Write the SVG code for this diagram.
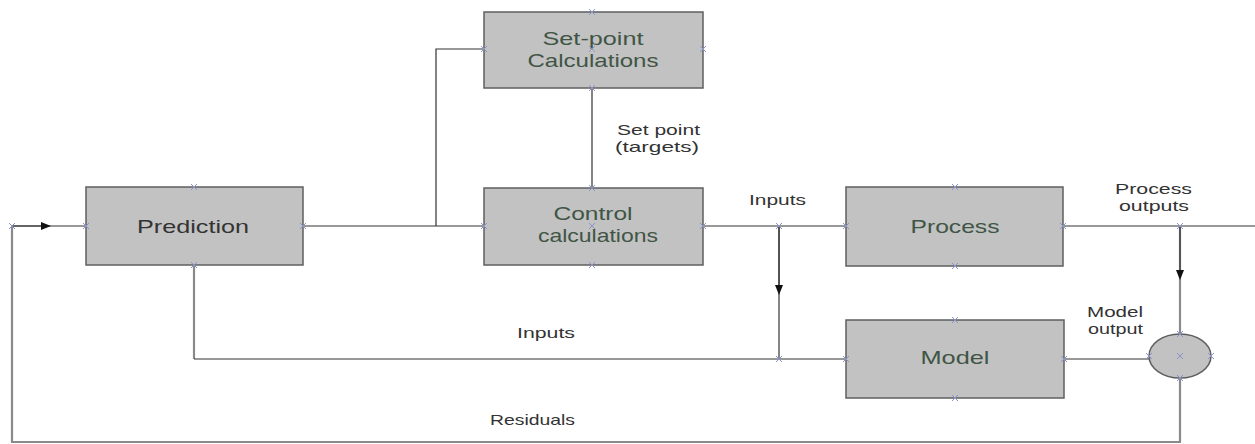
<svg xmlns="http://www.w3.org/2000/svg" width="1255" height="444" viewBox="0 0 1255 444">
<style>
.box{fill:#c2c2c2;stroke:#5f5f5f;stroke-width:1.5}
.bt{font-family:"Liberation Sans",Arial,sans-serif;font-size:19px;fill:#405545;text-anchor:middle}
.lbl{font-family:"Liberation Sans",Arial,sans-serif;font-size:15px;fill:#333}
.ln{fill:none;stroke:#333;stroke-width:1.2}
.gl{fill:none;stroke:#8a8a8a;stroke-width:2.2}
.cp{fill:none;stroke:#8a94c8;stroke-width:1}
</style>
<defs>
<marker id="ah" viewBox="0 0 10 10" refX="5" refY="5" markerWidth="10" markerHeight="10" markerUnits="userSpaceOnUse" orient="auto">
<path d="M0,1 L10,5 L0,9 Z" fill="#111"/>
</marker>
<path id="x" d="M-3,-3 L3,3 M-3,3 L3,-3"/>
</defs>
<rect width="1255" height="444" fill="#fff"/>
<g id="connectors">
<path class="gl" d="M12,226 V442 H1180 V378"/>
<path class="ln" d="M12,226 H86"/>
<path class="ln" d="M12,226 H46" marker-end="url(#ah)"/>
<path class="ln" d="M303,226 H484"/>
<path class="ln" d="M436,226 V49 H484"/>
<path class="ln" d="M592,88 V188"/>
<path class="ln" d="M703,226 H846"/>
<path class="ln" d="M779,226 V359"/>
<path class="ln" d="M779,226 V290" marker-end="url(#ah)"/>
<path class="gl" d="M194,265 V359"/>
<path class="ln" d="M194,359 H846"/>
<path class="ln" d="M1063,226 H1255"/>
<path class="gl" d="M1180,226 V334"/>
<path class="ln" d="M1180,226 V275" marker-end="url(#ah)"/>
<path class="ln" d="M1064,359 H1149"/>
<g class="cp"><use href="#x" x="12" y="226"/><use href="#x" x="779" y="226"/><use href="#x" x="779" y="359"/><use href="#x" x="1180" y="226"/></g>
</g>
<g id="setpoint">
<rect class="box" x="484" y="12" width="219" height="76"/>
<text class="bt" x="593" y="45" textLength="101" lengthAdjust="spacingAndGlyphs">Set-point</text>
<text class="bt" x="593" y="67" textLength="131" lengthAdjust="spacingAndGlyphs">Calculations</text>
<g class="cp"><use href="#x" x="592" y="12"/><use href="#x" x="484" y="49"/><use href="#x" x="703" y="49"/><use href="#x" x="592" y="88"/><use href="#x" x="592" y="49"/></g>
</g>
<g id="prediction">
<rect class="box" x="86" y="187" width="217" height="78"/>
<text class="bt" x="193" y="233" style="fill:#333" textLength="112" lengthAdjust="spacingAndGlyphs">Prediction</text>
<g class="cp"><use href="#x" x="194" y="187"/><use href="#x" x="86" y="226"/><use href="#x" x="303" y="226"/><use href="#x" x="194" y="265"/></g>
</g>
<g id="control">
<rect class="box" x="484" y="188" width="219" height="77"/>
<text class="bt" x="593" y="220" textLength="79" lengthAdjust="spacingAndGlyphs">Control</text>
<text class="bt" x="598" y="242" textLength="120" lengthAdjust="spacingAndGlyphs">calculations</text>
<g class="cp"><use href="#x" x="592" y="188"/><use href="#x" x="484" y="226"/><use href="#x" x="703" y="226"/><use href="#x" x="592" y="265"/><use href="#x" x="592" y="226"/></g>
</g>
<g id="process">
<rect class="box" x="846" y="187" width="217" height="79"/>
<text class="bt" x="955" y="233" textLength="89" lengthAdjust="spacingAndGlyphs">Process</text>
<g class="cp"><use href="#x" x="955" y="187"/><use href="#x" x="846" y="226"/><use href="#x" x="1063" y="226"/><use href="#x" x="955" y="266"/></g>
</g>
<g id="model">
<rect class="box" x="846" y="320" width="218" height="78"/>
<text class="bt" x="955" y="364" textLength="69" lengthAdjust="spacingAndGlyphs">Model</text>
<g class="cp"><use href="#x" x="955" y="320"/><use href="#x" x="846" y="359"/><use href="#x" x="1064" y="359"/><use href="#x" x="955" y="398"/></g>
</g>
<g id="sum">
<ellipse cx="1180" cy="356" rx="31" ry="22" fill="#c2c2c2" stroke="#5f5f5f" stroke-width="1.5"/>
<g class="cp"><use href="#x" x="1180" y="356"/><use href="#x" x="1149" y="356"/><use href="#x" x="1211" y="356"/><use href="#x" x="1180" y="334"/><use href="#x" x="1180" y="378"/></g>
</g>
<g id="labels">
<text class="lbl" x="617" y="135" textLength="83" lengthAdjust="spacingAndGlyphs">Set point</text>
<text class="lbl" x="615" y="152" textLength="84" lengthAdjust="spacingAndGlyphs">(targets)</text>
<text class="lbl" x="749" y="205" textLength="57" lengthAdjust="spacingAndGlyphs">Inputs</text>
<text class="lbl" x="1115" y="194" textLength="77" lengthAdjust="spacingAndGlyphs">Process</text>
<text class="lbl" x="1119" y="211" textLength="70" lengthAdjust="spacingAndGlyphs">outputs</text>
<text class="lbl" x="1087" y="317" textLength="56" lengthAdjust="spacingAndGlyphs">Model</text>
<text class="lbl" x="1088" y="334" textLength="55" lengthAdjust="spacingAndGlyphs">output</text>
<text class="lbl" x="517" y="338" textLength="58" lengthAdjust="spacingAndGlyphs">Inputs</text>
<text class="lbl" x="490" y="425" textLength="85" lengthAdjust="spacingAndGlyphs">Residuals</text>
</g>
</svg>
